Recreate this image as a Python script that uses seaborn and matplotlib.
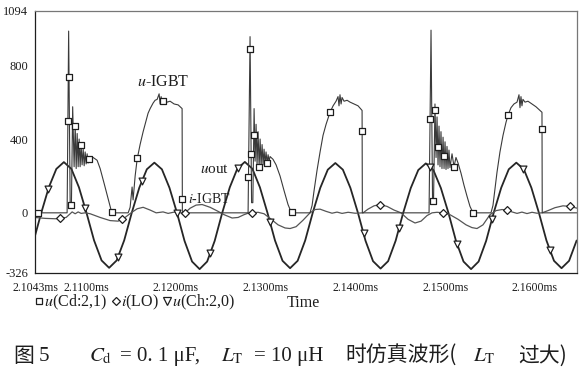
import numpy as np
import seaborn as sns
import matplotlib.pyplot as plt
from matplotlib.lines import Line2D

# time in microseconds, values in V / A (scaled as in the plot)
u_cd_t = [2104.30, 2107.88, 2108.05, 2108.22, 2108.36, 2108.50, 2108.66, 2108.78, 2108.89, 2109.00,
          2109.11, 2109.22, 2109.33, 2109.44, 2109.55, 2109.67, 2109.78, 2109.89, 2110.00, 2110.11,
          2110.22, 2110.33, 2110.45, 2110.78, 2111.22, 2111.56, 2112.00, 2112.45, 2112.78, 2113.01,
          2114.68, 2114.90, 2115.12, 2115.23, 2115.46, 2115.68, 2116.01, 2116.35, 2116.57, 2116.90,
          2117.13, 2117.46, 2117.68, 2117.91, 2118.13, 2118.24, 2118.35, 2118.46, 2118.69, 2119.02,
          2119.35, 2119.80, 2120.25, 2120.69, 2120.72,
          2128.04, 2128.26, 2128.43, 2128.57, 2128.71, 2128.82, 2128.93, 2129.04, 2129.15, 2129.27,
          2129.38, 2129.49, 2129.60, 2129.71, 2129.82, 2129.93, 2130.04, 2130.16, 2130.27, 2130.38,
          2130.49, 2130.82, 2131.16, 2131.60, 2132.05, 2132.49, 2132.83, 2133.06,
          2134.94, 2135.17, 2135.39, 2135.72, 2136.06, 2136.39, 2136.73, 2137.17, 2137.51, 2137.84,
          2138.06, 2138.17, 2138.28, 2138.40, 2138.51, 2138.73, 2139.07, 2139.40, 2139.84, 2140.29,
          2140.74, 2140.77,
          2148.20, 2148.42, 2148.59, 2148.70, 2148.86, 2148.98, 2149.09, 2149.20, 2149.31, 2149.42,
          2149.53, 2149.64, 2149.76, 2149.87, 2149.98, 2150.09, 2150.20, 2150.31, 2150.42, 2150.53,
          2150.76, 2150.98, 2151.20, 2151.43, 2151.76, 2152.09, 2152.43, 2152.76, 2153.10,
          2155.10, 2155.32, 2155.55, 2155.77, 2156.10, 2156.44, 2156.77, 2157.00, 2157.33, 2157.66,
          2158.00, 2158.22, 2158.33, 2158.44, 2158.55, 2158.66, 2158.89, 2159.22, 2159.67, 2160.11,
          2160.56, 2160.78, 2160.81, 2164.70]
u_cd_v = [0, 0, 985, 45, 45, 575, 250, 470, 240, 430,
          250, 400, 250, 370, 260, 345, 255, 330, 265, 320,
          270, 305, 285, 300, 285, 240, 160, 75, 15, 0,
          0, 30, 140, 70, 200, 290, 370, 440, 480, 540,
          565, 595, 610, 615, 645, 590, 630, 600, 615, 600,
          605, 590, 585, 565, 0,
          0, 955, 55, 55, 565, 280, 480, 260, 440, 250,
          400, 255, 370, 260, 345, 265, 330, 270, 315, 280,
          305, 290, 260, 200, 120, 45, 5, 0,
          0, 40, 120, 230, 330, 420, 480, 545, 580, 605,
          630, 580, 640, 590, 625, 605, 610, 600, 590, 580,
          555, 0,
          0, 990, 65, 65, 590, 300, 520, 260, 470, 250,
          440, 240, 410, 240, 385, 235, 360, 240, 340, 245,
          320, 250, 300, 270, 215, 150, 90, 35, 0,
          0, 40, 130, 220, 330, 420, 490, 530, 570, 590,
          600, 640, 570, 630, 580, 615, 600, 605, 590, 575,
          555, 545, 0, 0]

i_lo_t = [2104.30, 2105.43, 2106.55, 2107.77, 2108.22, 2108.44, 2108.78, 2109.11, 2109.44, 2109.89,
          2110.45, 2111.56, 2112.67, 2113.56, 2114.34, 2115.01, 2115.68, 2116.35, 2117.13, 2117.80,
          2118.57, 2119.13, 2119.80, 2120.47, 2121.02, 2121.58, 2122.25, 2122.92, 2123.81, 2124.70,
          2125.37, 2126.26, 2126.93, 2127.59, 2128.15, 2128.49, 2129.15, 2129.82, 2130.49, 2131.38,
          2132.16, 2132.72, 2133.39, 2134.16, 2134.94, 2135.50, 2136.06, 2136.73, 2137.39, 2137.95,
          2138.51, 2139.18, 2139.96, 2140.85, 2141.40, 2142.07, 2142.74, 2143.52, 2144.30, 2145.08,
          2145.86, 2146.64, 2147.31, 2147.97, 2148.53, 2149.09, 2149.76, 2150.53, 2151.43, 2152.32,
          2152.98, 2153.54, 2154.21, 2154.99, 2155.66, 2156.33, 2156.88, 2157.44, 2158.00, 2158.55,
          2159.11, 2159.67, 2160.22, 2160.78, 2161.45, 2162.23, 2163.12, 2163.90, 2164.70]
i_lo_v = [-25, -30, -32, -25, -5, 5, -5, 5, -3, 0,
          -5, -25, -42, -45, -25, 0, 22, 30, 15, 0,
          5, -3, 4, 0, 0, 25, 42, 45, 30, 8,
          -10, -28, -25, -10, 0, 0, 3, -5, -30, -65,
          -82, -85, -75, -40, 0, 18, 20, 8, -2, 4,
          -3, 3, -2, 0, 20, 38, 45, 35, 15, 0,
          -35, -55, -45, -15, 0, 3, 0, -10, -35, -65,
          -80, -85, -65, -10, 12, 18, 15, 5, -3, 4,
          -4, 3, -2, 0, 12, 28, 38, 35, 25]

u_ch_t = [2104.30,
          2105.00, 2105.84, 2106.68, 2107.52, 2108.36, 2109.20, 2110.04, 2110.88, 2111.72, 2112.56, 2113.40, 2114.24,
          2115.08, 2115.92, 2116.76, 2117.60, 2118.44, 2119.28, 2120.12, 2120.96, 2121.80, 2122.64, 2123.48, 2124.32,
          2125.16, 2126.00, 2126.84, 2127.68, 2128.52, 2129.36, 2130.20, 2131.04, 2131.88, 2132.72, 2133.56, 2134.40,
          2135.24, 2136.08, 2136.92, 2137.76, 2138.60, 2139.44, 2140.28, 2141.12, 2141.96, 2142.80, 2143.64, 2144.48,
          2145.32, 2146.16, 2147.00, 2147.84, 2148.68, 2149.52, 2150.36, 2151.20, 2152.04, 2152.88, 2153.72, 2154.56,
          2155.40, 2156.24, 2157.08, 2157.92, 2158.76, 2159.60, 2160.44, 2161.28, 2162.12, 2162.96, 2163.80, 2164.64]
u_ch_v = [-125,
          0, 138, 238, 275, 238, 138, 0, -149, -258, -298, -258, -149,
          0, 136, 236, 272, 236, 136, 0, -152, -264, -305, -264, -152,
          0, 138, 239, 276, 239, 138, 0, -150, -260, -300, -260, -150,
          0, 135, 234, 270, 234, 135, 0, -151, -262, -302, -262, -151,
          0, 134, 232, 268, 232, 134, 0, -152, -264, -305, -264, -152,
          0, 136, 236, 272, 236, 136, 0, -150, -260, -300, -260, -150]

# times where the plotting program put its symbols
sq_t = [2104.65, 2107.966, 2108.095, 2108.30, 2108.78, 2109.44, 2110.28, 2112.90, 2115.70, 2118.57,
        2120.716, 2128.085, 2128.244, 2128.38, 2128.67, 2129.27, 2130.16, 2132.94, 2137.17, 2140.746,
        2148.313, 2148.645, 2148.85, 2149.25, 2149.92, 2150.98, 2153.10, 2157.00, 2160.785]
dm_t = [2107.10, 2114.01, 2121.02, 2128.49, 2142.74, 2149.76, 2156.88, 2163.90]
tr_t = [2105.77, 2109.89, 2113.56, 2116.24, 2120.13, 2123.81, 2126.93, 2130.49, 2140.90, 2144.85,
        2148.31, 2151.31, 2155.21, 2158.66, 2161.67]

x_ticks = [2104.3, 2110, 2120, 2130, 2140, 2150, 2160]
y_ticks = [-326, 0, 400, 800, 1094]

sns.set_style("white")
plt.rcParams['font.family'] = ['Liberation Serif', 'Noto Sans CJK SC', 'DejaVu Sans']
plt.rcParams['mathtext.fontset'] = 'stix'
plt.rcParams['axes.unicode_minus'] = False

ink = '#1e1e1e'
fig = plt.figure(figsize=(5.8, 3.8), dpi=100)
ax = fig.add_axes([0.0603, 0.2816, 0.9345, 0.6895])

sns.lineplot(x=u_ch_t, y=u_ch_v, ax=ax, color='#262626', lw=1.3, estimator=None, sort=False)
sns.lineplot(x=i_lo_t, y=i_lo_v, ax=ax, color='#555555', lw=0.9, estimator=None, sort=False)
sns.lineplot(x=u_cd_t, y=u_cd_v, ax=ax, color='#3a3a3a', lw=0.8, estimator=None, sort=False)

mk = dict(facecolor='white', edgecolor=ink, linewidth=0.9, zorder=4, ax=ax, legend=False)
sns.scatterplot(x=sq_t, y=np.interp(sq_t, u_cd_t, u_cd_v), marker='s', s=20, **mk)
sns.scatterplot(x=dm_t, y=np.interp(dm_t, i_lo_t, i_lo_v), marker='D', s=16, **mk)
sns.scatterplot(x=tr_t, y=np.interp(tr_t, u_ch_t, u_ch_v), marker='v', s=24, **mk)

ax.set_xlim(2104.3, 2164.68)
ax.set_ylim(-326, 1094)
ax.set_xticks(x_ticks)
ax.set_xticklabels([f"{t / 1000:.4f}ms" for t in x_ticks], fontsize=8.5)
ax.set_yticks(y_ticks)
ax.set_yticklabels([str(v) for v in y_ticks], fontsize=9)
ax.tick_params(direction='out', length=3, width=0.8, color=ink, labelcolor=ink)
ax.tick_params(axis='x', pad=3.5)
ax.tick_params(axis='y', pad=2)
for side, sp in ax.spines.items():
    sp.set_color(ink if side in ('left', 'bottom') else '#777777')
    sp.set_linewidth(0.9)
ax.set_xlabel("Time", fontsize=11.5, color=ink)
ax.xaxis.set_label_coords(0.4945, -0.085)
ax.set_ylabel("")

ax.text(2115.68, 709, r"$\mathit{u}$-IGBT", fontsize=11.5, color=ink, va='center', ha='left')
ax.text(2122.69, 233, r"$\mathit{u}$out", fontsize=11, color=ink, va='center', ha='left')
ax.text(2121.36, 76, r"$\mathit{i}$-IGBT", fontsize=10, color=ink, va='center', ha='left')

handles = [Line2D([], [], ls='none', marker='s', ms=5, mfc='white', mec=ink, mew=0.9),
           Line2D([], [], ls='none', marker='D', ms=4.5, mfc='white', mec=ink, mew=0.9),
           Line2D([], [], ls='none', marker='v', ms=5.5, mfc='white', mec=ink, mew=0.9)]
labels = [r"$\mathit{u}$(Cd:2,1)", r"$\mathit{i}$(LO)", r"$\mathit{u}$(Ch:2,0)"]
fig.legend(handles, labels, loc='center left', bbox_to_anchor=(0.045, 0.205), ncol=3, frameon=False,
           fontsize=11.5, handlelength=0.6, handletextpad=0.05, columnspacing=0.2, borderpad=0,
           labelcolor=ink)

# caption, built from pieces so the CJK glyphs and the italic symbols each get their own font;
# the gaps are stretched so the line runs from x=89 to x=567 px as in the scan
renderer = fig.canvas.get_renderer()
W = fig.bbox.width
cap_y = 0.063
cjk = ['Noto Sans CJK SC', 'DejaVu Sans']
kw = dict(fontsize=15, color=ink, va='center', ha='left')
fig.text(13 / W, cap_y, "图", family=cjk, **kw)
fig.text(39 / W, cap_y, "5", **kw)
pieces = [(r"$C_\mathrm{d}$", None), ("= 0. 1 μF,", None), (r"$L_\mathrm{T}$", None),
          ("= 10 μH", None), ("时仿真波形(", cjk), (r"$L_\mathrm{T}$", None), ("过大)", cjk)]
base_gap = [4, 10, 5, 11, 8, 11]
texts = []
for txt, fam in pieces:
    extra = {'family': fam} if fam is not None else {}
    texts.append(fig.text(0, cap_y, txt, **kw, **extra))
widths = [t.get_window_extent(renderer).width for t in texts]
spare = (567 - 89) - sum(widths) - sum(base_gap)
gaps = [g + max(spare, 0) * g / sum(base_gap) for g in base_gap]
x_px = 89
for i, t in enumerate(texts):
    t.set_x(x_px / W)
    x_px += widths[i] + (gaps[i] if i < len(gaps) else 0)

fig.savefig("out.png", dpi=100)
